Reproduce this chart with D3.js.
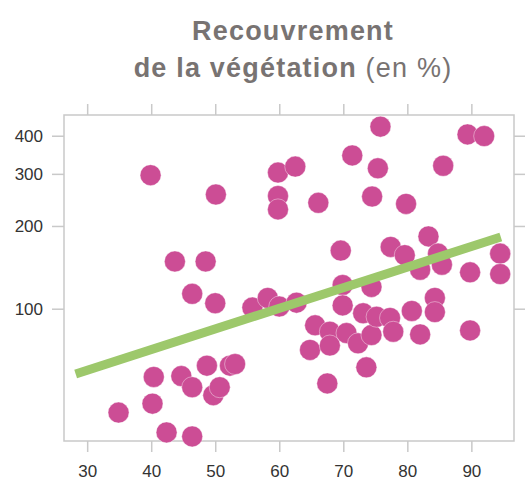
<!DOCTYPE html>
<html>
<head>
<meta charset="utf-8">
<script src="https://cdn.jsdelivr.net/npm/d3@7.9.0/dist/d3.min.js"></script>
<style>
  body { margin: 0; background: #fff; }
  svg { display: block; }
  .tick text { font-family: "Liberation Sans", Arial, sans-serif; font-size: 17px; fill: #333; }
</style>
</head>
<body>
<svg id="chart" width="525" height="482"></svg>
<script>
// x: coverage (%), y: value (log-like axis)
const coverX = [34.9, 39.9, 40.2, 40.4, 42.4, 43.7, 44.7, 46.4, 46.4, 46.4, 48.5, 48.7, 49.7, 50.1, 50.0, 50.7, 52.3, 53.1,
  55.8, 58.2, 60.0, 59.8, 59.8, 59.8, 62.5, 62.7, 66.1, 64.8, 65.6, 67.9, 67.9, 67.5, 69.6, 69.9, 69.9, 70.5,
  71.4, 72.3, 73.1, 73.6, 74.4, 74.4, 74.5, 75.2, 75.4, 75.8, 77.3, 77.4, 77.8, 79.6, 79.8, 80.7, 82.0, 82.0,
  83.3, 84.3, 84.3, 84.8, 85.4, 85.6, 89.4, 89.8, 89.8, 92.0, 94.5, 94.5];
const valueY = [34, 297, 38, 51.5, 26, 150, 52, 46, 114, 24.5, 150, 58, 42, 256, 105, 46, 58, 59,
  101, 110, 102, 303, 253, 228, 317, 105.5, 240, 68, 86, 81, 71, 48, 164, 123, 103, 80,
  345, 72.5, 96, 57, 78.5, 121, 252, 93, 313, 428, 92, 169, 81, 158, 238, 98, 140, 79,
  184, 110, 97, 160, 146, 319, 404, 137, 82, 399, 160, 135];
const fitX = [28.2, 94.6];
const fitY = [53.2, 183.1];
const xTicks = [30, 40, 50, 60, 70, 80, 90];
const yTicks = [100, 200, 300, 400];

const svg = d3.select('#chart');
const plot = { left: 64, right: 514, top: 115, bottom: 441 };

const x = d3.scaleLinear().domain([26.38, 96.66]).range([plot.left, plot.right]);
const y = d3.scaleSymlog().constant(28).domain([22.85, 466.6]).range([plot.bottom, plot.top]);

const axisColor = '#c9c9c9';

// frame
svg.append('rect')
  .attr('x', plot.left).attr('y', plot.top)
  .attr('width', plot.right - plot.left).attr('height', plot.bottom - plot.top)
  .attr('fill', 'none').attr('stroke', axisColor).attr('stroke-width', 1.5);

function styleAxis(g) {
  g.select('.domain').remove();
  g.selectAll('.tick line').attr('stroke', axisColor).attr('stroke-width', 1.5);
}

svg.append('g').attr('transform', `translate(0,${plot.bottom})`)
  .call(d3.axisBottom(x).tickValues(xTicks).tickSize(11).tickPadding(13))
  .call(styleAxis);
svg.append('g').attr('transform', `translate(0,${plot.top})`)
  .call(d3.axisTop(x).tickValues(xTicks).tickSize(11).tickFormat(''))
  .call(styleAxis);
svg.append('g').attr('transform', `translate(${plot.left},0)`)
  .call(d3.axisLeft(y).tickValues(yTicks).tickSize(12).tickPadding(9).tickFormat(d3.format('d')))
  .call(styleAxis);
svg.append('g').attr('transform', `translate(${plot.right},0)`)
  .call(d3.axisRight(y).tickValues(yTicks).tickSize(12).tickFormat(''))
  .call(styleAxis);

// points
const pts = coverX.map((d, i) => ({ x: d, y: valueY[i] }));
svg.append('g')
  .selectAll('circle')
  .data(pts)
  .join('circle')
  .attr('cx', d => x(d.x))
  .attr('cy', d => y(d.y))
  .attr('r', 10.5)
  .attr('fill', '#cc4d95')
  .attr('stroke', '#fff')
  .attr('stroke-opacity', 0.5)
  .attr('stroke-width', 0.8);

// regression line
const line = d3.line().x(d => x(d[0])).y(d => y(d[1]));
svg.append('path')
  .attr('d', line(fitX.map((d, i) => [d, fitY[i]])))
  .attr('fill', 'none')
  .attr('stroke', '#9dc86b')
  .attr('stroke-width', 9);

// title
const title = svg.append('text')
  .attr('text-anchor', 'middle')
  .attr('font-family', '"Liberation Sans", Arial, sans-serif')
  .attr('font-size', 27)
  .attr('fill', '#787372');
title.append('tspan').attr('x', 293).attr('y', 39.5)
  .attr('font-weight', 'bold').attr('letter-spacing', 1.2).text('Recouvrement');
const l2 = title.append('tspan').attr('x', 293).attr('y', 77);
l2.append('tspan').attr('font-weight', 'bold').attr('letter-spacing', 1.2).text('de la végétation');
l2.append('tspan').attr('font-weight', 'normal').attr('letter-spacing', 1.2).text(' (en %)');
</script>
</body>
</html>
